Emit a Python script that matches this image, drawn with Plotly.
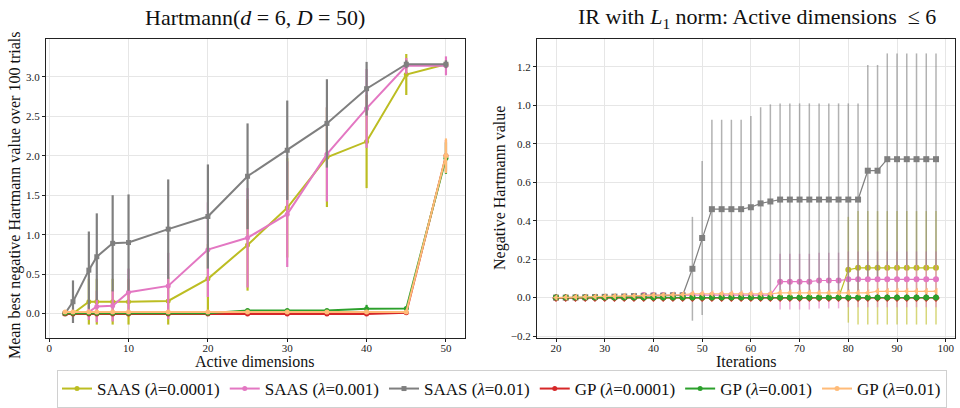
import plotly.graph_objects as go

# ---------------- Left panel data ----------------
dims = [2, 3, 5, 6, 8, 10, 15, 20, 25, 30, 35, 40, 45, 50]

saas_1e4 = [0.0, 0.0, 0.15, 0.15, 0.15, 0.15, 0.16, 0.44, 0.87, 1.34, 1.98, 2.18, 3.03, 3.16]
saas_1e4_err = [0.02, 0.02, 0.29, 0.29, 0.29, 0.29, 0.30, 0.44, 0.58, 0.63, 0.63, 0.59, 0.26, 0.05]

saas_1e3 = [0.0, 0.0, 0.02, 0.09, 0.10, 0.27, 0.35, 0.81, 0.96, 1.26, 2.02, 2.60, 3.14, 3.14]
saas_1e3_err = [0.02, 0.02, 0.1, 0.2, 0.2, 0.3, 0.42, 0.6, 0.63, 0.67, 0.6, 0.5, 0.1, 0.12]

saas_1e2 = [0.0, 0.15, 0.55, 0.72, 0.89, 0.90, 1.07, 1.23, 1.74, 2.07, 2.41, 2.85, 3.16, 3.16]
saas_1e2_err = [0.02, 0.27, 0.49, 0.55, 0.61, 0.61, 0.63, 0.66, 0.67, 0.63, 0.56, 0.34, 0.05, 0.05]

gp_1e4 = [-0.005, -0.005, -0.005, -0.005, -0.005, -0.005, -0.005, -0.005, -0.005, -0.005, -0.005, -0.005, 0.01, 2.0]
gp_1e4_err = [0.01, 0.01, 0.01, 0.01, 0.01, 0.01, 0.01, 0.01, 0.01, 0.01, 0.01, 0.01, 0.01, 0.2]

gp_1e3 = [0.005, 0.005, 0.005, 0.005, 0.005, 0.005, 0.005, 0.005, 0.04, 0.04, 0.04, 0.06, 0.065, 1.97]
gp_1e3_err = [0.01, 0.01, 0.01, 0.01, 0.01, 0.01, 0.01, 0.01, 0.02, 0.02, 0.02, 0.05, 0.02, 0.2]

gp_1e2 = [0.02, 0.02, 0.02, 0.02, 0.02, 0.02, 0.02, 0.02, 0.02, 0.02, 0.02, 0.02, 0.02, 2.0]
gp_1e2_err = [0.02, 0.02, 0.02, 0.02, 0.02, 0.02, 0.02, 0.02, 0.02, 0.02, 0.02, 0.02, 0.02, 0.22]

# ---------------- Right panel data ----------------
iters = list(range(20, 100, 2))  # 20..98

r_saas_1e4 = [0.0] * 30 + [0.145] + [0.155] * 9
r_saas_1e4_err = [0.0] * 30 + [0.275] + [0.295] * 9

r_saas_1e3 = [0.0] * 9 + [0.013] * 14 + [0.083] * 4 + [0.089] * 3 + [0.095] * 10
r_saas_1e3_err = [0.0] * 9 + [0.01] * 14 + [0.145] * 4 + [0.145] * 3 + [0.145] * 10

r_saas_1e2 = ([0.0, 0.0, 0.001, 0.002, 0.003, 0.004, 0.005, 0.006, 0.008, 0.009, 0.01, 0.01, 0.012, 0.012,
               0.15, 0.31, 0.46, 0.46, 0.46, 0.46, 0.47, 0.49, 0.50]
              + [0.51] * 9 + [0.66, 0.66] + [0.72] * 6)
r_saas_1e2_err = ([0.0] * 9 + [0.01] * 5
                  + [0.27, 0.40, 0.465, 0.465, 0.465, 0.465, 0.475, 0.50, 0.505]
                  + [0.50] * 9 + [0.55, 0.55] + [0.55] * 6)

r_gp_1e4 = [-0.002] * 40
r_gp_1e4_err = [0.005] * 40

r_gp_1e3 = [0.0] * 40
r_gp_1e3_err = [0.005] * 40

r_gp_1e2 = ([0.0, 0.002, 0.003, 0.004, 0.005, 0.006, 0.007, 0.008, 0.009, 0.010, 0.012, 0.013, 0.015, 0.016]
            + [0.02] * 9 + [0.025] * 10 + [0.033] * 7)
r_gp_1e2_err = [0.01] * 40

labels = ["SAAS (<i>λ</i>=0.0001)", "SAAS (<i>λ</i>=0.001)", "SAAS (<i>λ</i>=0.01)",
          "GP (<i>λ</i>=0.0001)", "GP (<i>λ</i>=0.001)", "GP (<i>λ</i>=0.01)"]
colors = ["#bcbd22", "#e377c2", "#7f7f7f", "#d62728", "#2ca02c", "#ffbb78"]
err_colors = ["rgba(188,189,34,0.6)", "rgba(227,119,194,0.6)", "rgba(127,127,127,0.6)",
              "rgba(214,39,40,0.6)", "rgba(44,160,44,0.6)", "rgba(255,187,120,0.6)"]
symbols = ["circle", "circle", "square", "diamond", "circle", "triangle-left"]

left_series = [(saas_1e4, saas_1e4_err), (saas_1e3, saas_1e3_err), (saas_1e2, saas_1e2_err),
               (gp_1e4, gp_1e4_err), (gp_1e3, gp_1e3_err), (gp_1e2, gp_1e2_err)]
right_series = [(r_saas_1e4, r_saas_1e4_err), (r_saas_1e3, r_saas_1e3_err), (r_saas_1e2, r_saas_1e2_err),
                (r_gp_1e4, r_gp_1e4_err), (r_gp_1e3, r_gp_1e3_err), (r_gp_1e2, r_gp_1e2_err)]

FONT = "Liberation Serif, Times New Roman, serif"

fig = go.Figure()
for i, (y, e) in enumerate(left_series):
    fig.add_trace(go.Scatter(
        x=dims, y=y, mode="lines+markers", name=labels[i],
        line=dict(color=colors[i], width=2),
        marker=dict(color=colors[i], size=5, symbol="square" if i == 2 else "circle"),
        error_y=dict(type="data", array=e, visible=True, color=colors[i], thickness=2.2, width=0),
        xaxis="x", yaxis="y", showlegend=True, legendgroup=str(i)))
for i, (y, e) in enumerate(right_series):
    fig.add_trace(go.Scatter(
        x=iters, y=y, mode="lines+markers", name=labels[i],
        line=dict(color=colors[i], width=1.2),
        marker=dict(color=colors[i], size=6, symbol=symbols[i]),
        error_y=dict(type="data", array=e, visible=True, color=err_colors[i], thickness=1.5, width=0),
        xaxis="x2", yaxis="y2", showlegend=False, legendgroup=str(i)))

W, H = 960, 408
def px(xp): return xp / W
def py(yp): return 1 - yp / H

axis_common = dict(showline=True, linecolor="#222", linewidth=1.2, mirror=True,
                   showgrid=True, gridcolor="#e6e6e6", gridwidth=1, zeroline=False,
                   ticks="outside", ticklen=3, tickcolor="#222", automargin=False,
                   ticklabeloverflow="allow",
                   tickfont=dict(family=FONT, size=11, color="#222"))

def ann(text, x, y, size, angle=0):
    return dict(text=text, x=px(x), y=py(y), xref="paper", yref="paper",
                xanchor="center", yanchor="middle", showarrow=False, textangle=angle,
                font=dict(family=FONT, size=size, color="#111"))

fig.update_layout(
    width=W, height=H, margin=dict(l=0, r=0, t=0, b=0, autoexpand=False),
    paper_bgcolor="white", plot_bgcolor="white",
    font=dict(family=FONT, color="#111"),
    xaxis=dict(domain=[px(46), px(465)], range=[-0.4, 52.4], tickvals=[0, 10, 20, 30, 40, 50],
               anchor="y", ticklabelstandoff=-3, **axis_common),
    yaxis=dict(domain=[py(338), py(39)], range=[-0.31, 3.48], tickvals=[0, 0.5, 1, 1.5, 2, 2.5, 3],
               tickformat=".1f", anchor="x", **axis_common),
    xaxis2=dict(domain=[px(537), px(955)], range=[16.1, 101.9], tickvals=list(range(20, 101, 10)),
                anchor="y2", ticklabelstandoff=-3, **axis_common),
    yaxis2=dict(domain=[py(338), py(39)], range=[-0.21, 1.345],
                tickvals=[-0.2, 0, 0.2, 0.4, 0.6, 0.8, 1.0, 1.2], tickformat=".1f",
                anchor="x2", **axis_common),
    legend=dict(orientation="h", x=px(502), xanchor="center", y=py(389), yanchor="middle",
                bordercolor="#d0d0d0", borderwidth=1, bgcolor="white",
                font=dict(family=FONT, size=17, color="#111"),
                itemwidth=30, tracegroupgap=0),
    annotations=[
        ann("Hartmann(<i>d</i> = 6, <i>D</i> = 50)", 255, 18, 22),
        ann("IR with <i>L</i><sub>1</sub> norm: Active dimensions  ≤ 6", 757, 18, 22),
        ann("Active dimensions", 255, 361, 16),
        ann("Iterations", 746, 361, 16),
        ann("Mean best negative Hartmann value over 100 trials", 15, 196, 16, -90),
        ann("Negative Hartmann value", 500, 188, 16, -90),
    ],
)

fig.write_html("out.html", config={"displayModeBar": False},
               post_script="document.body.style.margin='0';")
